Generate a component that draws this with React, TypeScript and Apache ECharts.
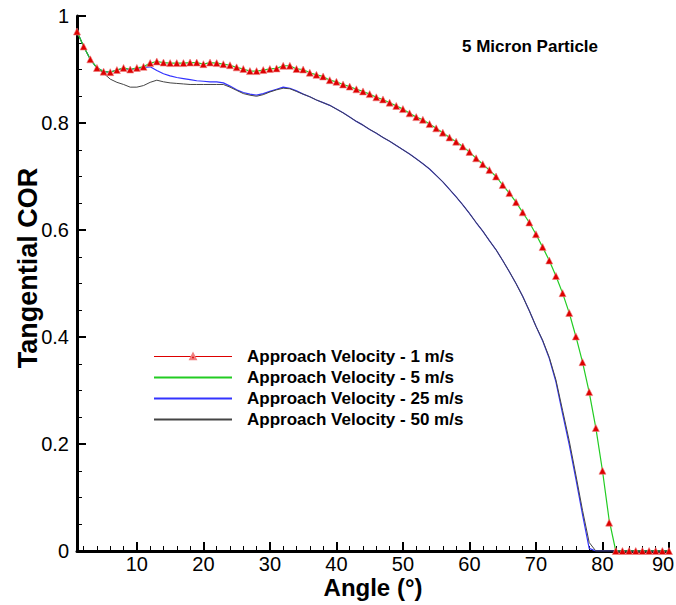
import React, { useEffect, useRef } from 'react';
import * as echarts from 'echarts';

const angles = [
  1, 2, 3, 4, 5, 6, 7, 8, 9, 10,
  11, 12, 13, 14, 15, 16, 17, 18, 19, 20,
  21, 22, 23, 24, 25, 26, 27, 28, 29, 30,
  31, 32, 33, 34, 35, 36, 37, 38, 39, 40,
  41, 42, 43, 44, 45, 46, 47, 48, 49, 50,
  51, 52, 53, 54, 55, 56, 57, 58, 59, 60,
  61, 62, 63, 64, 65, 66, 67, 68, 69, 70,
  71, 72, 73, 74, 75, 76, 77, 78, 79, 80,
  81, 82, 83, 84, 85, 86, 87, 88, 89, 90,
];

const v1 = [
  0.971, 0.943, 0.919, 0.903, 0.896, 0.895, 0.899, 0.903, 0.900, 0.903,
  0.905, 0.912, 0.915, 0.913, 0.912, 0.912, 0.912, 0.913, 0.913, 0.910,
  0.913, 0.912, 0.910, 0.908, 0.904, 0.901, 0.897, 0.897, 0.899, 0.901,
  0.902, 0.907, 0.907, 0.901, 0.900, 0.894, 0.890, 0.887, 0.880, 0.877,
  0.872, 0.868, 0.863, 0.859, 0.854, 0.848, 0.844, 0.838, 0.832, 0.826,
  0.818, 0.811, 0.806, 0.798, 0.790, 0.782, 0.773, 0.765, 0.756, 0.746,
  0.734, 0.723, 0.712, 0.700, 0.684, 0.669, 0.652, 0.633, 0.614, 0.592,
  0.568, 0.543, 0.514, 0.482, 0.445, 0.401, 0.353, 0.297, 0.230, 0.150,
  0.053, 0, 0, 0, 0, 0, 0, 0, 0, 0,
];

const v5 = [
  0.971, 0.943, 0.919, 0.903, 0.896, 0.895, 0.899, 0.903, 0.900, 0.903,
  0.905, 0.912, 0.915, 0.913, 0.912, 0.912, 0.912, 0.913, 0.913, 0.910,
  0.913, 0.912, 0.910, 0.908, 0.904, 0.901, 0.897, 0.897, 0.899, 0.901,
  0.902, 0.907, 0.907, 0.901, 0.900, 0.894, 0.890, 0.887, 0.880, 0.877,
  0.872, 0.868, 0.863, 0.859, 0.854, 0.848, 0.844, 0.838, 0.832, 0.826,
  0.818, 0.811, 0.806, 0.798, 0.790, 0.782, 0.773, 0.765, 0.756, 0.746,
  0.734, 0.723, 0.712, 0.700, 0.684, 0.669, 0.652, 0.633, 0.614, 0.592,
  0.568, 0.543, 0.514, 0.482, 0.445, 0.401, 0.353, 0.297, 0.230, 0.150,
  0.058, 0, 0, 0, 0, 0, 0, 0, 0, 0,
];

const v25 = [
  0.971, 0.943, 0.919, 0.903, 0.896, 0.895, 0.899, 0.902, 0.900, 0.902,
  0.904, 0.905, 0.898, 0.892, 0.888, 0.885, 0.883, 0.881, 0.879, 0.878,
  0.877, 0.877, 0.875, 0.869, 0.862, 0.857, 0.854, 0.852, 0.855, 0.859,
  0.863, 0.867, 0.865, 0.860, 0.854, 0.849, 0.843, 0.838, 0.833, 0.826,
  0.819, 0.811, 0.803, 0.796, 0.788, 0.781, 0.773, 0.766, 0.758, 0.750,
  0.742, 0.733, 0.724, 0.714, 0.702, 0.690, 0.676, 0.662, 0.647, 0.631,
  0.614, 0.598, 0.580, 0.563, 0.543, 0.522, 0.500, 0.476, 0.449, 0.420,
  0.393, 0.360, 0.316, 0.257, 0.199, 0.135, 0.068, 0.005, 0, 0,
  0, 0, 0, 0, 0, 0, 0, 0, 0, 0,
];

const v50 = [
  0.971, 0.943, 0.919, 0.903, 0.893, 0.882, 0.876, 0.872, 0.867, 0.867,
  0.870, 0.876, 0.880, 0.877, 0.875, 0.874, 0.873, 0.872, 0.872, 0.872,
  0.872, 0.872, 0.872, 0.867, 0.861, 0.855, 0.852, 0.850, 0.853, 0.858,
  0.862, 0.865, 0.864, 0.859, 0.854, 0.849, 0.843, 0.838, 0.833, 0.826,
  0.819, 0.811, 0.803, 0.796, 0.788, 0.781, 0.773, 0.766, 0.758, 0.750,
  0.742, 0.733, 0.724, 0.714, 0.702, 0.690, 0.676, 0.662, 0.647, 0.631,
  0.614, 0.598, 0.580, 0.563, 0.543, 0.522, 0.500, 0.476, 0.449, 0.420,
  0.394, 0.362, 0.320, 0.263, 0.206, 0.142, 0.076, 0.016, 0, 0,
  0, 0, 0, 0, 0, 0, 0, 0, 0, 0,
];

const seriesNames = [
  'Approach Velocity - 1 m/s',
  'Approach Velocity - 5 m/s',
  'Approach Velocity - 25 m/s',
  'Approach Velocity - 50 m/s',
];

const xMajorTicks = [10, 20, 30, 40, 50, 60, 70, 80, 90];
const xMinorTicks = [
  2, 4, 6, 8, 12, 14, 16, 18, 22, 24, 26, 28, 32, 34, 36, 38,
  42, 44, 46, 48, 52, 54, 56, 58, 62, 64, 66, 68, 72, 74, 76, 78,
  82, 84, 86, 88,
];

const titleText = '5 Micron Particle';

const FONT = '"Liberation Sans", Arial, sans-serif';

export default function App() {
  const ref = useRef<HTMLDivElement>(null);

  useEffect(() => {
    const chart = echarts.init(ref.current as HTMLDivElement, null, { renderer: 'svg' });
    const pairs = (vals: number[]) => angles.map((a, i) => [a, vals[i]]);
    const red = '#dd0000';
    const green = '#22cc22';
    const blue = '#3333ff';
    const dark = '#444444';

    chart.setOption({
      animation: false,
      backgroundColor: '#ffffff',
      textStyle: { fontFamily: FONT },
      title: {
        text: titleText,
        left: 462,
        top: 38,
        padding: 0,
        textStyle: { fontFamily: FONT, fontSize: 17, fontWeight: 'bold', color: '#000' },
      },
      legend: {
        orient: 'vertical',
        left: 153,
        top: 346,
        padding: 0,
        itemGap: 0,
        itemWidth: 78,
        itemHeight: 7,
        selectedMode: false,
        textStyle: {
          fontFamily: FONT,
          fontSize: 17,
          fontWeight: 'bold',
          color: '#000',
          lineHeight: 21,
          padding: [0, 0, 0, 10],
        },
        data: [
          { name: seriesNames[0], lineStyle: { color: red, width: 1, opacity: 1 } },
          { name: seriesNames[1], itemStyle: { opacity: 0 } },
          { name: seriesNames[2], itemStyle: { opacity: 0 } },
          { name: seriesNames[3], itemStyle: { opacity: 0 } },
        ],
      },
      grid: { left: 77, right: 7, top: 16, bottom: 54, containLabel: false, outerBoundsMode: 'none' },
      xAxis: [
        {
          type: 'value',
          min: 1,
          max: 90,
          position: 'bottom',
          name: 'Angle (°)',
          nameLocation: 'middle',
          nameGap: 24,
          nameMoveOverlap: false,
          nameTextStyle: { fontFamily: FONT, fontSize: 24, fontWeight: 'bold', color: '#000', verticalAlign: 'top' },
          axisLine: { show: true, onZero: false, lineStyle: { color: '#000', width: 3 } },
          axisTick: {
            show: true,
            inside: true,
            length: 9,
            customValues: xMajorTicks,
            lineStyle: { color: '#000', width: 2 },
          },
          axisLabel: {
            customValues: xMajorTicks,
            margin: 3,
            fontFamily: FONT,
            fontSize: 20,
            color: '#000',
            formatter: (v: number) => (v === 90 ? '{e|90}' : String(v)),
            rich: {
              e: { fontFamily: FONT, fontSize: 20, color: '#000', padding: [0, 12, 0, 0] },
            },
          },
          splitLine: { show: false },
        },
        {
          type: 'value',
          min: 1,
          max: 90,
          position: 'bottom',
          offset: 0,
          axisLine: { show: false, onZero: false },
          axisTick: {
            show: true,
            inside: true,
            length: 5,
            customValues: xMinorTicks,
            lineStyle: { color: '#000', width: 1 },
          },
          axisLabel: { show: false },
          splitLine: { show: false },
        },
      ],
      yAxis: {
        type: 'value',
        min: 0,
        max: 1,
        interval: 0.2,
        name: 'Tangential COR',
        nameLocation: 'middle',
        nameGap: 36,
        nameMoveOverlap: false,
        nameTextStyle: {
          fontFamily: FONT,
          fontSize: 27,
          fontWeight: 'bold',
          color: '#000',
          padding: [0, 0, 0, 31],
        },
        axisLine: { show: true, onZero: false, lineStyle: { color: '#000', width: 3 } },
        axisTick: { show: true, inside: true, length: 9, lineStyle: { color: '#000', width: 2 } },
        minorTick: { show: true, splitNumber: 4, length: 5, lineStyle: { color: '#000', width: 1 } },
        axisLabel: { margin: 8, fontFamily: FONT, fontSize: 20, color: '#000' },
        splitLine: { show: false },
        minorSplitLine: { show: false },
      },
      series: [
        {
          name: seriesNames[0],
          type: 'line',
          data: pairs(v1),
          z: 4,
          symbol: 'triangle',
          symbolSize: 7,
          showSymbol: true,
          itemStyle: { color: red, borderColor: '#f08080', borderWidth: 0.6 },
          lineStyle: { color: red, width: 1, opacity: 0 },
        },
        {
          name: seriesNames[1],
          type: 'line',
          data: pairs(v5),
          z: 3,
          symbol: 'none',
          itemStyle: { color: green },
          lineStyle: { color: green, width: 1.2 },
        },
        {
          name: seriesNames[2],
          type: 'line',
          data: pairs(v25),
          z: 2,
          symbol: 'none',
          itemStyle: { color: blue },
          lineStyle: { color: blue, width: 1.2 },
        },
        {
          name: seriesNames[3],
          type: 'line',
          data: pairs(v50),
          z: 2,
          symbol: 'none',
          itemStyle: { color: dark },
          lineStyle: { color: dark, width: 1 },
        },
      ],
    });
    return () => chart.dispose();
  }, []);

  return (
    <div
      ref={ref}
      style={{ position: 'fixed', left: 0, top: 0, width: 676, height: 605, background: '#fff' }}
    />
  );
}
